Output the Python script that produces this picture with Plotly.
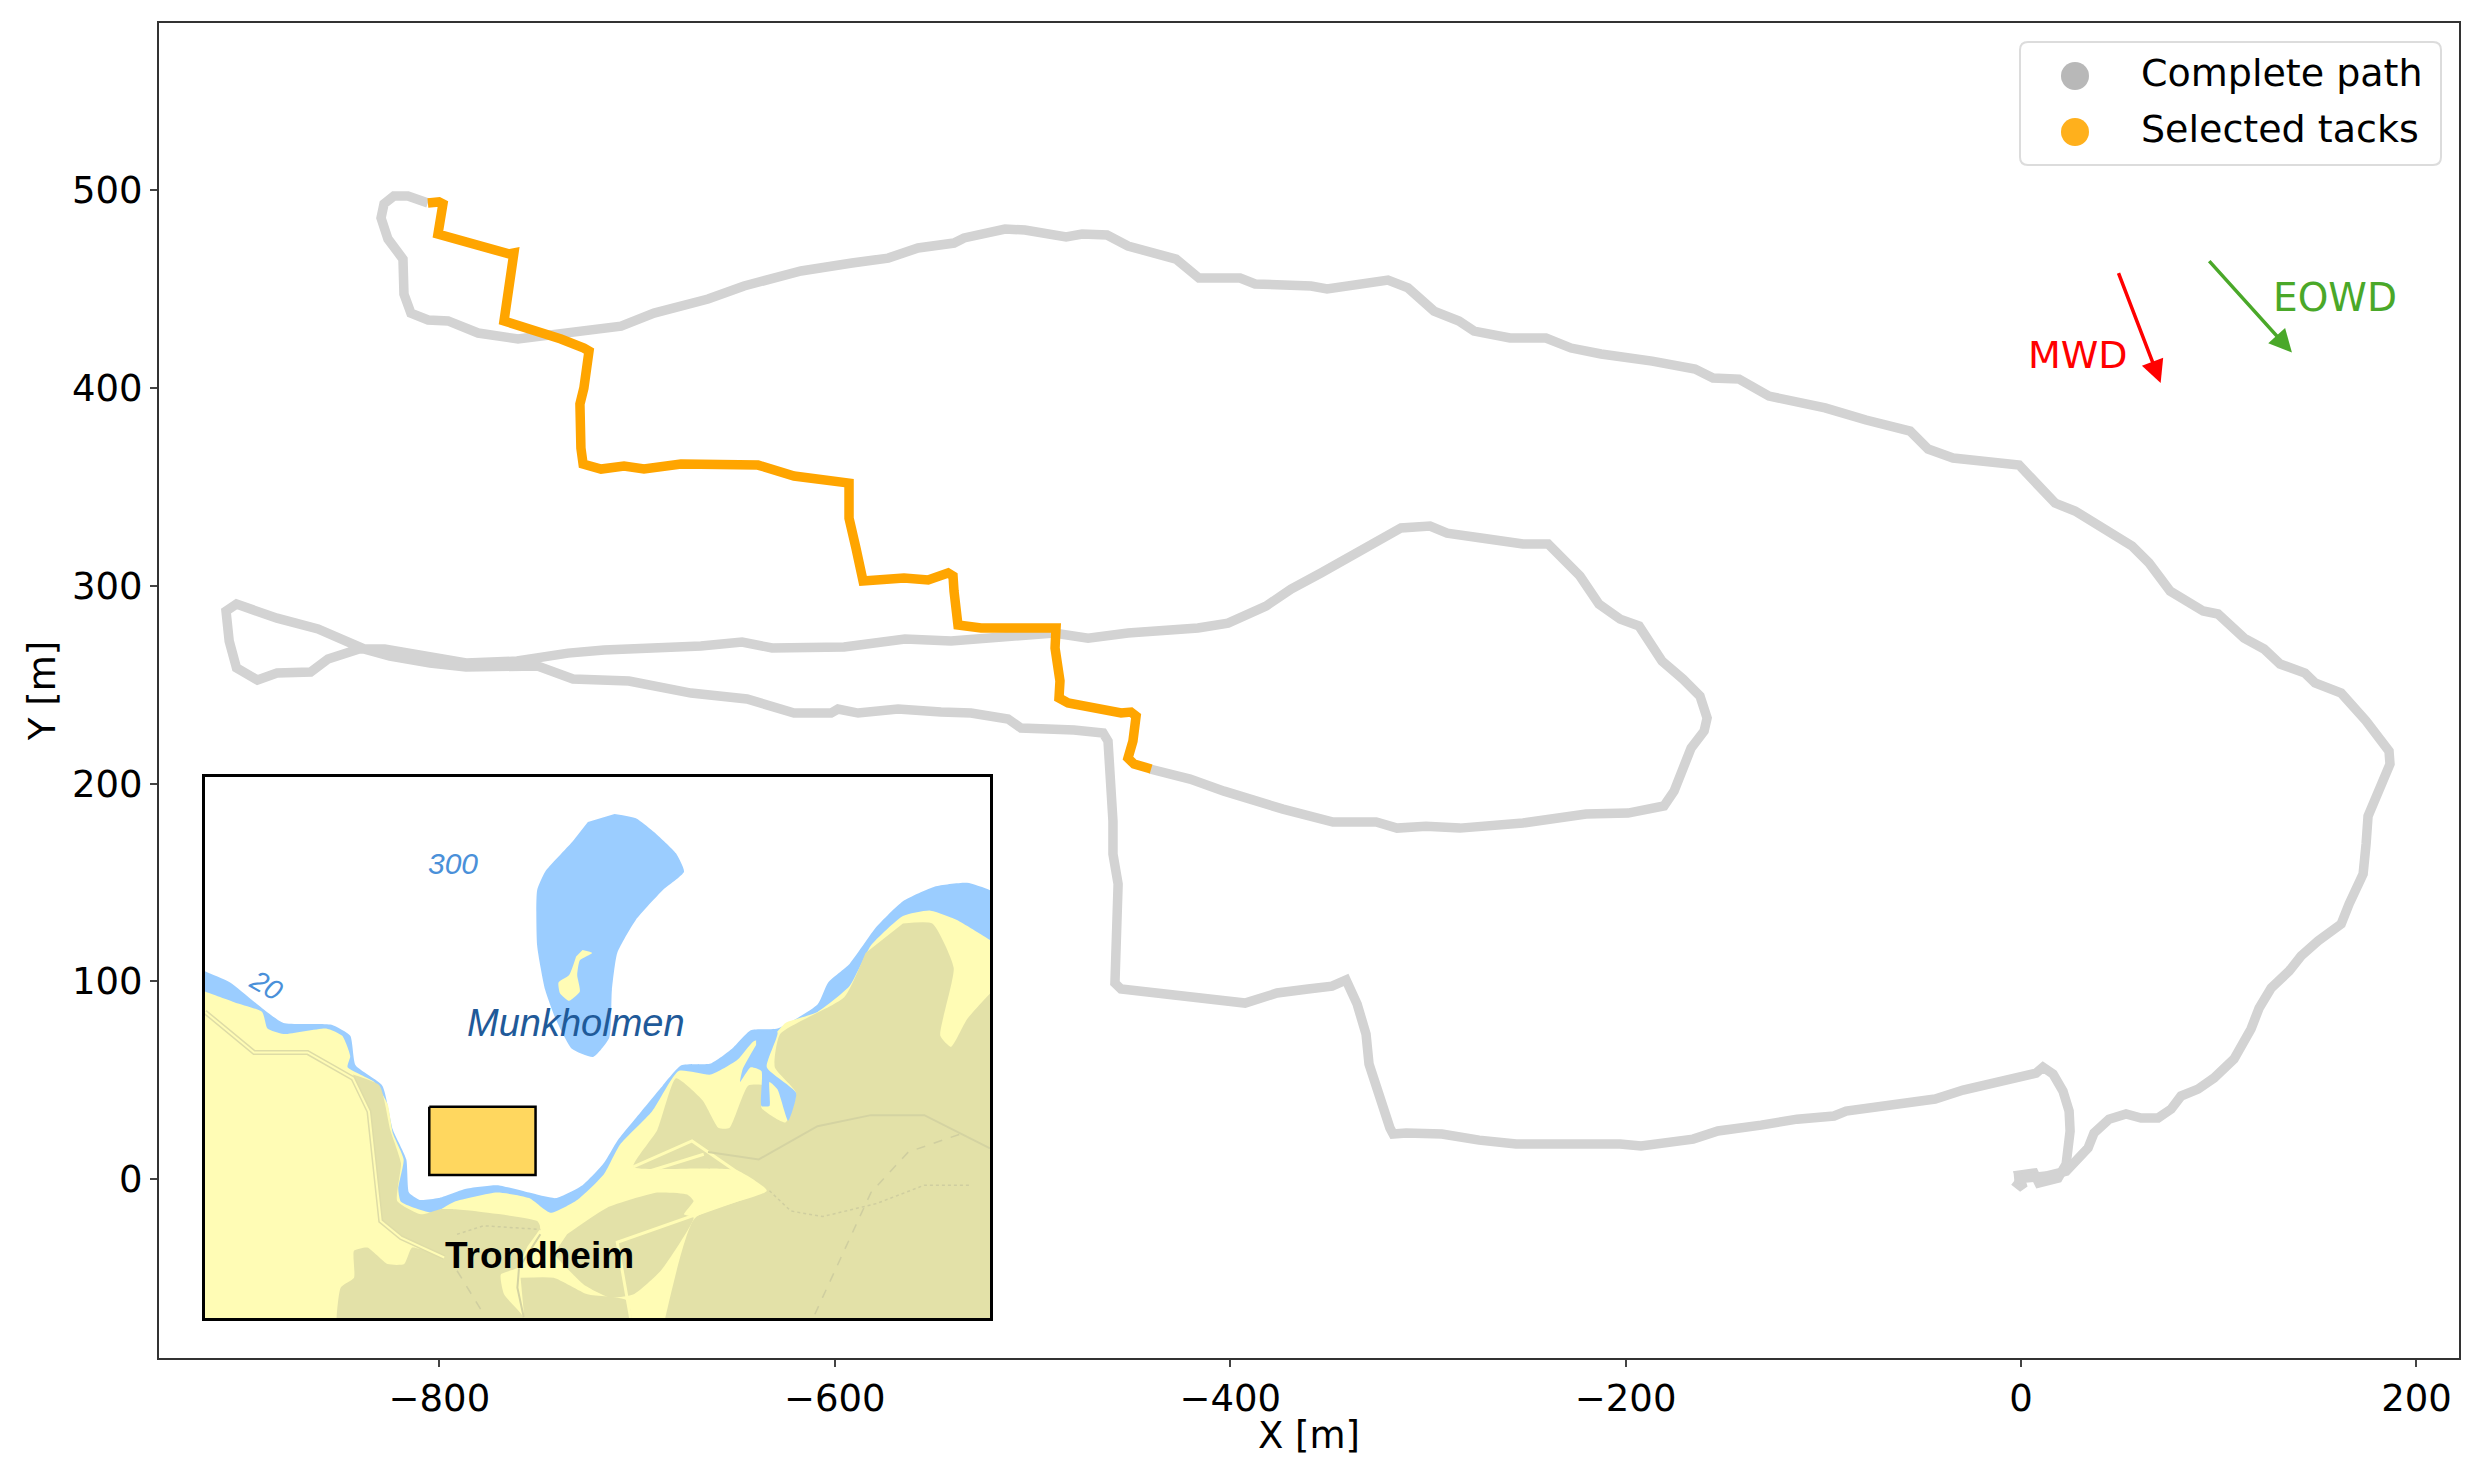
# Complete sailing path with selected tacks and an inset map of the site
import plotly.graph_objects as go

# Complete path [m]
path_x = [-3.5, 1, -1, 6.6, 9, 18.7, 22.8, 24.8, 24.3, 21.2, 16.2, 11.1, 7.6, -5, -17.2, -29.3, -43.5, -57.2, -72.8,
          -88.5, -94.6, -113.3, -131.5, -153.3, -165.9, -184.1, -192.2, -202.8, -243.3, -255.4, -274.1, -292.9,
          -311, -317.6, -319.2, -323.7, -329.8, -331.3, -335.8, -341.4, -348.5, -360.6, -376.3, -392.5, -413.7,
          -435, -455.2, -458.3, -457.5, -457.5, -456.7, -459.3, -459.3, -461.8, -464.3, -479, -505.8, -512.4,
          -531.1, -546.3, -568, -588.2, -598.4, -601.9, -620.6, -644.4, -672.7, -704.1, -732.4, -750.3, -786.5,
          -804.7, -825, -838.1, -861.4, -882.1, -902.6, -907.9, -906.3, -902.6, -892, -882.1, -865.1, -856.3,
          -840.6, -827.7, -807.2, -786.5, -760.7, -734.9, -716.7, -690.9, -667.7, -646.9, -631.7, -595.3, -580.1,
          -564.5, -541.2, -519.4, -489.1, -471.9, -451.7, -416.3, -401.1, -381.9, -369.2, -354.1, -339.4, -324.2,
          -313.6, -298.9, -290.3, -273.1, -251.9, -239.2, -230.6, -223.1, -213.5, -202.8, -193.2, -181.6, -171,
          -162.4, -158.8, -160.3, -166.9, -175.5, -180.6, -198.8, -220, -251.9, -283.8, -301, -315.6, -326.2,
          -348, -373.3, -403.1, -420.3, -440.6]
path_y = [-1, -4.5, 2, 3, -2, 0.5, 7.6, 24.3, 34.4, 44.5, 53.1, 56.6, 53.6, 51, 48.6, 45, 40.5, 38.4, 36.9,
          34.4, 31.9, 30.3, 27.3, 24.3, 20.2, 17.7, 16.7, 17.7, 17.2, 17.7, 19.7, 22.8,
          23.3, 22.8, 25.8, 41, 58.2, 73.3, 88.5, 100.7, 97.6, 96.1, 94.1, 89, 91.5,
          93.6, 96.1, 99.1, 115.3, 132, 149.2, 164.4, 181, 221.5, 225.6, 227.1, 228.1, 232.7,
          235.7, 236.2, 237.7, 235.7, 237.7, 235.7, 235.7, 242.8, 245.8, 251.9, 252.9, 259.5, 259,
          261, 264.5, 268.1, 278.2, 283.7, 290.8, 287.3, 272.1, 258.5, 252.4, 255.9, 256.4, 263,
          268.1, 268.1, 264.5, 261, 262, 266, 267.6, 268.1, 269.6, 271.6, 268.6, 269.1, 270.6,
          273.1, 272.1, 273.6, 276.2, 273.6, 276.2, 278.7, 281.2, 289.8, 298.4, 306.5, 315.1, 324.2,
          329.3, 330.3, 326.7, 324.2, 321.2, 321.2, 311.6, 305, 290.8, 283.2, 279.7, 262, 252.9,
          244.3, 233.2, 226.6, 218, 196.2, 188.7, 185.1, 184.6, 180.1, 177.5, 178.5, 177.5, 180.6,
          180.6, 187.1, 196.2, 202.3, 207.4]

# Second half of the path, after the selected tacks
rest_x = [-805.8, -815.9, -823, -828, -829.5, -826, -818.4, -817.9, -814.4, -805.7, -795.6, -780.4, -760.2, -740,
          -708.1, -691.4, -664.1, -645.9, -617.1, -591.3, -573, -557.9, -539.7, -534.6, -519, -513.9, -503.8,
          -483, -474.9, -462.3, -451.7, -439, -427.4, -415.8, -395, -387.4, -359.1, -351, -335.8, -320.2, -310.1,
          -296.9, -284.3, -276.7, -258.5, -240.3, -227.6, -212.4, -186.6, -164.9, -155.8, -142.6, -127.5, -99.1,
          -78.4, -56.1, -47, -34.4, -1, 7.1, 17.2, 27.3, 43, 56.1, 64.7, 75.4, 92.1, 99.6, 112.8, 122.9, 131,
          143.6, 148.7, 161.9, 174.5, 180.6, 186.1, 186.6, 180.6, 175.5, 174.5, 173, 165.9, 161.9, 150.2, 141.6,
          135.6, 126.5, 120.4, 116.3, 107.7, 97.6, 89.5, 80.9, 75.9, 69.3, 60.7, 53.1, 44.5, 36.9, 33.9, 22.8,
          12.6, -3.5]
rest_y = [493.7, 497.2, 497.2, 493.2, 486.1, 475.5, 465.3, 447.6, 438, 434.5, 434, 427.9, 424.9, 427.4,
          431.4, 438, 445.1, 451.7, 459.3, 463.3, 465.8, 470.9, 473.4, 476, 479.5, 480.5, 480,
          476.5, 478, 477.5, 471.9, 467.9, 465.3, 455.7, 455.7, 452.7, 451.7, 450.2, 452.7, 454.7, 450.7,
          439, 434, 428.9, 425.4, 425.4, 420.3, 417.3, 413.7, 409.7, 405.1, 404.6, 396, 390,
          383.9, 378.3, 369.2, 364.7, 361.1, 353, 341.9, 337.9, 327.8, 320.2, 311.6, 297.4, 287.3, 285.8, 273.6,
          268.1, 260.5, 255.9, 250.9, 245.8, 231.7, 224, 216.5, 209.9, 196.2, 183.6, 169.4, 154.3, 139.1, 129,
          120.4, 112.8, 105.2, 96.6, 86.5, 75.9, 60.7, 51.1, 45.5, 42, 35.4, 30.9, 30.9, 32.9, 30.3, 23.3, 15.7, 4,
          1.5, 0]

# Selected tacks [m]
tack_x = [-440, -448.6, -451.7, -449.2, -447.6, -450.2, -455.2, -466.9, -482, -486.6, -486.1, -488.6, -488.1, -526,
          -537.7, -539.7, -540.2, -542.7, -552.8, -565, -580.1, -585.7, -589.3, -592.8, -592.8, -601.9, -620.6,
          -638.8, -656, -677.8, -696.5, -706.6, -718.2, -727.3, -728.4, -728.9, -726.9, -724.3, -726.9, -738.5,
          -767.3, -762.3, -764.8, -782.5, -800.7, -798.2, -800.2, -805.8]
tack_y = [207.4, 209.9, 212.9, 221.5, 234.2, 236.2, 235.7, 238.2, 240.8, 243.3, 251.9, 268.6, 278.7, 278.7,
          280.2, 297.4, 305, 306.5, 303, 304, 302.5, 302.5, 319.2, 334.3, 352, 353, 355.6,
          361.1, 361.6, 361.6, 359.1, 360.6, 359.1, 361.6, 369.7, 392, 400.1, 418.8, 420.3, 424.9,
          434, 468.4, 467.9, 472.9, 478, 493.2, 494.2, 493.7]

# Wave direction arrows [m]
mwd_x = [49, 70.6]
mwd_y = [459, 402.6]
eowd_x = [94.5, 137]
eowd_y = [465, 418]

x_ticks = [-800, -600, -400, -200, 0, 200]
y_ticks = [0, 100, 200, 300, 400, 500]

# Inset map outlines, in map units; outer corners run past the frame and get clipped
sea_x = [0, 43, 90, 150, 190, 280, 315, 325, 375, 395, 420, 425, 445, 480, 530, 590, 650, 700, 750, 790, 815, 860, 900,
         935, 990, 1030, 1065, 1115, 1190, 1210, 1250, 1300, 1350, 1410, 1470, 1513, 1570, 1800, -200]
sea_y = [540, 570, 600, 670, 710, 715, 745, 825, 880, 1000, 1080, 1170, 1190, 1185, 1160, 1150, 1170, 1185, 1150, 1090,
         1030, 950, 880, 825, 820, 780, 730, 725, 660, 600, 550, 450, 380, 340, 330, 350, 400, 1800, 1800]
land_x = [0, 43, 100, 150, 160, 190, 270, 300, 315, 310, 360, 385, 395, 415, 405, 410, 470, 510, 590, 650, 690, 740, 790,
          820, 880, 930, 990, 1040, 1070, 1110, 1130, 1190, 1250, 1290, 1350, 1400, 1450, 1513, 1570, 1800, -200]
land_y = [600, 625, 655, 680, 725, 740, 725, 745, 800, 830, 870, 930, 1010, 1080, 1160, 1195, 1225, 1195, 1170, 1185,
          1225, 1190, 1120, 1040, 950, 840, 850, 810, 760, 740, 710, 680, 610, 500, 420, 405, 430, 485, 540, 1800, 1800]
inlet_x = [1075, 1115, 1095, 1150, 1135, 1115, 1100, 1100, 1085, 1085, 1065, 1045, 1050, 1075]
inlet_y = [735, 735, 830, 900, 975, 890, 870, 935, 935, 840, 830, 870, 835, 770]
shoal_x = [810, 850, 890, 925, 940, 900, 850, 815, 805, 800, 770, 730, 700, 680, 665, 665, 680, 730, 760]
shoal_y = [143, 155, 200, 250, 300, 350, 430, 520, 620, 750, 802, 780, 700, 620, 500, 350, 300, 220, 165]
island_x = [750, 768, 745, 740, 745, 725, 708, 705, 725, 738]
island_y = [512, 520, 540, 580, 625, 650, 630, 600, 580, 530]
hill_right_x = [1350, 1405, 1445, 1420, 1440, 1470, 1513, 1570, 1800, 880, 905, 960, 1095, 1040, 970, 845, 890, 925,
                975, 1005, 1025, 1060, 1090, 1085, 1130, 1150, 1110, 1120, 1240, 1280]
hill_right_y = [440, 440, 560, 745, 775, 700, 630, 550, 1800, 1700, 1510, 1240, 1165, 1110, 1105, 1100, 1000, 860,
                920, 995, 995, 880, 880, 940, 980, 900, 830, 740, 640, 520]
hill_left_x = [320, 370, 390, 410, 403, 447, 484, 509, 547, 665, 671, 646, 628, 597, 603, 640, 660, 297, 297, 322, 322,
               347, 385, 416, 431, 491, 410, 378, 350]
hill_left_y = [850, 880, 1000, 1090, 1193, 1229, 1215, 1215, 1220, 1247, 1265, 1319, 1374, 1392, 1446, 1509, 1700, 1700,
               1428, 1401, 1328, 1319, 1364, 1364, 1319, 1346, 1292, 1256, 950]
hill_mid_x = [721, 796, 890, 946, 958, 940, 958, 896, 846, 802, 752, 696]
hill_mid_y = [1283, 1211, 1170, 1175, 1193, 1229, 1238, 1383, 1446, 1455, 1419, 1337]
hill_low_x = [634, 696, 759, 834, 840, 653]
hill_low_y = [1401, 1401, 1446, 1464, 1700, 1700]
road_west_x = [43, 135, 235, 320, 350, 372, 410, 491]
road_west_y = [680, 790, 790, 860, 950, 1247, 1292, 1346]
road_east_x = [845, 955, 1090, 815, 840]
road_east_y = [1100, 1030, 1165, 1305, 1510]
road_link_x = [671, 709, 846, 977]
road_link_y = [1265, 1247, 1125, 1066]
road_grey_x = [985, 1080, 1190, 1290, 1390, 1513]
road_grey_y = [1060, 1080, 990, 960, 960, 1050]
road_town_x = [671, 631, 628, 640]
road_town_y = [1283, 1374, 1428, 1509]
track_a_x = [1100, 1140, 1200, 1300, 1390, 1475]
track_a_y = [1165, 1220, 1235, 1200, 1150, 1150]
track_b_x = [1185, 1290, 1360, 1460]
track_b_y = [1500, 1170, 1060, 1010]
track_c_x = [515, 565, 671]
track_c_y = [1283, 1260, 1270]
track_d_x = [515, 565]
track_d_y = [1382, 1500]
area_x = [463, 662, 662, 463, 463]
area_y = [937, 937, 1122, 1122, 937]

GREY = "#d3d3d3"
ORANGE = "#ffa500"
SEA = "#9bcdff"
LAND = "#fffcb5"
HILL = "#e3e1a8"
TRACK = "#cfcea0"
FONT = "DejaVu Sans"
MAP_FONT = "Liberation Sans"


# Page pixels to paper fractions, for the legend box
def px(x):
    return (x - 158) / 2300


def py(y):
    return (1357 - y) / 1335


def polygon(xs, ys, color):
    return go.Scatter(x=xs, y=ys, xaxis="x2", yaxis="y2", mode="lines", fill="toself", fillcolor=color,
                      line=dict(width=0, shape="spline", smoothing=0.5), hoverinfo="skip", showlegend=False)


def road(xs, ys, color, width, dash="solid"):
    return go.Scatter(x=xs, y=ys, xaxis="x2", yaxis="y2", mode="lines", line=dict(color=color, width=width, dash=dash),
                      hoverinfo="skip", showlegend=False)


fig = go.Figure()

fig.add_trace(go.Scatter(x=path_x, y=path_y, mode="lines", line=dict(color=GREY, width=9.5), name="Complete path",
                         showlegend=False))
fig.add_trace(go.Scatter(x=rest_x, y=rest_y, mode="lines", line=dict(color=GREY, width=9.5), name="Complete path",
                         showlegend=False))
fig.add_trace(go.Scatter(x=tack_x, y=tack_y, mode="lines", line=dict(color=ORANGE, width=9.5), name="Selected tacks",
                         showlegend=False))

# Inset map
fig.add_trace(polygon(sea_x, sea_y, SEA))
fig.add_trace(polygon(land_x, land_y, LAND))
fig.add_trace(polygon(hill_right_x, hill_right_y, HILL))
fig.add_trace(polygon(hill_left_x, hill_left_y, HILL))
fig.add_trace(polygon(hill_mid_x, hill_mid_y, HILL))
fig.add_trace(polygon(hill_low_x, hill_low_y, HILL))
fig.add_trace(polygon(inlet_x, inlet_y, SEA))
fig.add_trace(polygon(shoal_x, shoal_y, SEA))
fig.add_trace(polygon(island_x, island_y, LAND))
fig.add_trace(road(road_west_x, road_west_y, "#dedca6", 5))
fig.add_trace(road(road_west_x, road_west_y, LAND, 2))
fig.add_trace(road(road_east_x, road_east_y, LAND, 3))
fig.add_trace(road(road_link_x, road_link_y, LAND, 3))
fig.add_trace(road(road_grey_x, road_grey_y, "#d4d3a2", 2))
fig.add_trace(road(road_town_x, road_town_y, "#d4d3a2", 2))
fig.add_trace(road(track_a_x, track_a_y, TRACK, 1.5, "dot"))
fig.add_trace(road(track_b_x, track_b_y, TRACK, 1.5, "dash"))
fig.add_trace(road(track_c_x, track_c_y, TRACK, 1.5, "dot"))
fig.add_trace(road(track_d_x, track_d_y, TRACK, 1.5, "dash"))
fig.add_trace(go.Scatter(x=area_x, y=area_y, xaxis="x2", yaxis="y2", mode="lines", fill="toself", fillcolor="#ffd75f",
                         line=dict(color="black", width=2.5), hoverinfo="skip", showlegend=False))

map_text = [
    ("300", 508, 278, 30, "#4a90d9", "italic", "normal", 0),
    ("20", 158, 608, 28, "#4a90d9", "italic", "normal", 30),
    ("Munkholmen", 738, 710, 38, "#1f5a99", "italic", "normal", 0),
    ("Trondheim", 670, 1340, 37, "black", "normal", "bold", 0),
]
for text, x, y, size, color, style, weight, angle in map_text:
    fig.add_annotation(x=x, y=y, xref="x2", yref="y2", text=text, showarrow=False, textangle=angle,
                       font=dict(family=MAP_FONT, size=size, color=color, style=style, weight=weight))

# Direction arrows
fig.add_annotation(x=mwd_x[1], y=mwd_y[1], ax=mwd_x[0], ay=mwd_y[0], axref="x", ayref="y", xref="x", yref="y", text="",
                   showarrow=True, arrowhead=2, arrowsize=1.3, arrowwidth=3.5, arrowcolor="#ff0000")
fig.add_annotation(x=eowd_x[1], y=eowd_y[1], ax=eowd_x[0], ay=eowd_y[0], axref="x", ayref="y", xref="x", yref="y",
                   text="", showarrow=True, arrowhead=2, arrowsize=1.3, arrowwidth=3.5, arrowcolor="#4aa829")
fig.add_annotation(x=29, y=417, text="MWD", showarrow=False, font=dict(family=FONT, size=38, color="#ff0000"))
fig.add_annotation(x=159, y=446, text="EOWD", showarrow=False, font=dict(family=FONT, size=39, color="#4aa829"))

# x axis title sits closer to the tick labels than the standoff allows
fig.add_annotation(x=px(1308), y=py(1434), xref="paper", yref="paper", text="X [m]", showarrow=False, yanchor="middle",
                   font=dict(family=FONT, size=37, color="black"))

# Legend box, markers and labels
l, r, t, b, c = px(2019), px(2440), py(41), py(164), 8 / 2300
c2 = 8 / 1335
fig.add_shape(type="path", xref="paper", yref="paper", layer="above", fillcolor="white",
              line=dict(color="#dcdcdc", width=2),
              path=f"M {l + c},{b} L {r - c},{b} Q {r},{b} {r},{b + c2} L {r},{t - c2} Q {r},{t} {r - c},{t} "
                   f"L {l + c},{t} Q {l},{t} {l},{t - c2} L {l},{b + c2} Q {l},{b} {l + c},{b} Z")
for label, color, cy, ty in [("Complete path", "#b8b8b8", 75, 72), ("Selected tacks", "#ffb01c", 131, 128)]:
    fig.add_shape(type="circle", xref="paper", yref="paper", layer="above", fillcolor=color, line=dict(width=0),
                  x0=px(2060), x1=px(2088), y0=py(cy + 14), y1=py(cy - 14))
    fig.add_annotation(x=px(2138), y=py(ty), xref="paper", yref="paper", text=label, showarrow=False, xanchor="left",
                       yanchor="middle", font=dict(family=FONT, size=38, color="black"))

# The page body adds 8 px at the top and left, so the margins allow for it
fig.update_layout(
    width=2472, height=1463,
    margin=dict(l=151, r=21, t=15, b=113),
    paper_bgcolor="white", plot_bgcolor="white",
    showlegend=False,
    font=dict(family=FONT, size=37, color="black"),
    xaxis=dict(range=[-941.8, 221.5], tickmode="array", tickvals=x_ticks, ticks="outside", ticklen=7, tickwidth=2,
               showgrid=False, zeroline=False, showline=True, mirror=True, linecolor="#333333", linewidth=2),
    yaxis=dict(range=[-90.5, 584.7], tickmode="array", tickvals=y_ticks, ticks="outside", ticklen=7, tickwidth=2,
               showgrid=False, zeroline=False, showline=True, mirror=True, linecolor="#333333", linewidth=2,
               title=dict(text="Y [m]", standoff=5, font=dict(size=37))),
    xaxis2=dict(domain=[0.02, 0.3613], anchor="y2", range=[43, 1513], showticklabels=False, ticks="", showgrid=False,
                zeroline=False, showline=True, mirror=True, linecolor="black", linewidth=3),
    yaxis2=dict(domain=[0.03, 0.4352], anchor="x2", range=[1510, 43], showticklabels=False, ticks="", showgrid=False,
                zeroline=False, showline=True, mirror=True, linecolor="black", linewidth=3),
)

fig.write_html("out.html")
